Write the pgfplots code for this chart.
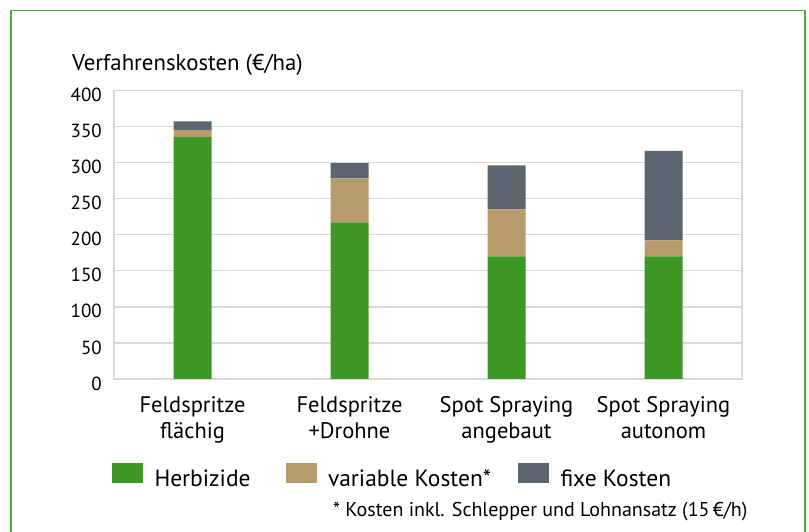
\documentclass[border=0pt]{standalone}
\usepackage{fontspec}
\setmainfont{PT Sans}
\usepackage{pgfplots}
\pgfplotsset{compat=1.18}
\definecolor{cHerb}{HTML}{3E9826}
\definecolor{cVar}{HTML}{B89B6C}
\definecolor{cFix}{HTML}{5B6570}
\definecolor{cGrid}{HTML}{D9D9D9}
\definecolor{cFrame}{HTML}{4CAF3A}
\begin{document}
\begin{tikzpicture}[x=1pt,y=1pt]
\useasboundingbox (0,0) rectangle (809,532);
\draw[cFrame, line width=1.6pt] (11,-20) -- (11,521.5) -- (805,521.5) -- (805,-20);
\begin{axis}[
  at={(114pt,153pt)}, anchor=south west,
  scale only axis, width=628pt, height=288.7pt,
  xmin=-0.5, xmax=3.5, ymin=0, ymax=400,
  ybar stacked, bar width=38pt,
  xtick={0,1,2,3},
  xticklabels={{Feldspritze\\flächig},{Feldspritze\\+Drohne},{Spot Spraying\\angebaut},{Spot Spraying\\autonom}},
  ytick={0,50,...,400},
  ymajorgrids, grid style={cGrid, line width=1.5pt},
  axis line style={cGrid, line width=1.5pt},
  major tick length=0pt,
  /pgf/number format/assume math mode=true,
  yticklabel style={font=\fontsize{19}{22}\selectfont, anchor=east, inner sep=0pt, xshift=-12pt, yshift=-4.5pt},
  xticklabel style={font=\fontsize{22.5}{26}\selectfont, align=center, anchor=north, inner sep=0pt, yshift=-17pt},
  legend columns=3,
  legend style={draw=none, fill=none, inner sep=0pt, outer sep=0pt,
    at={(axis description cs:-0.00318,-0.29096)}, anchor=north west,
    font=\fontsize{23.5}{26}\selectfont,
    nodes={inner sep=0pt},
    /tikz/every odd column/.append style={column sep=11.5pt}},
  legend image code/.code={\fill[#1,draw=none] (0pt,-4pt) rectangle (31pt,16pt);},
]
\addplot[fill=cHerb, draw=none] coordinates {(0,335) (1,217) (2,170) (3,170)};
\addplot[fill=cVar, draw=none] coordinates {(0,10) (1,61) (2,65) (3,22)};
\addplot[fill=cFix, draw=none] coordinates {(0,12) (1,21) (2,61) (3,124)};
\legend{\makebox[131pt][l]{Herbizide},\makebox[190pt][l]{variable Kosten*},fixe Kosten}
\end{axis}
\node[anchor=base west, inner sep=0pt, font=\fontsize{22.8}{26}\selectfont] at (72,461) {Verfahrenskosten (€/ha)};
\node[anchor=base east, inner sep=0pt, font=\fontsize{20}{22}\selectfont] at (747.7,15) {* Kosten inkl. Schlepper und Lohnansatz (15\,€/h)};
\end{tikzpicture}
\end{document}
